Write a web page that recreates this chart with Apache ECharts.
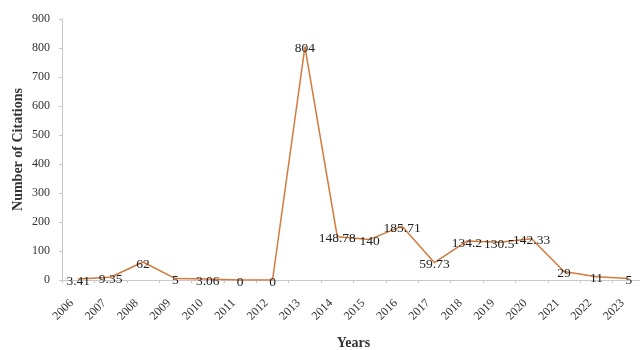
<!DOCTYPE html>
<html><head><meta charset="utf-8">
<script src="https://cdn.jsdelivr.net/npm/echarts@6/dist/echarts.min.js"></script>
<style>html,body{margin:0;padding:0;background:#fff}#c{width:640px;height:350px}</style>
</head><body><div id="c"></div>
<script>
const years = ['2006','2007','2008','2009','2010','2011','2012','2013','2014','2015','2016','2017','2018','2019','2020','2021','2022','2023'];
const citations = [3.41, 9.35, 62, 5, 3.06, 0, 0, 804, 148.78, 140, 185.71, 59.73, 134.2, 130.5, 142.33, 29, 11, 5];
const yTicks = [0, 100, 200, 300, 400, 500, 600, 700, 800, 900];

const serif = 'Liberation Serif, Times New Roman, serif';
const chart = echarts.init(document.getElementById('c'));
chart.setOption({
  animation: false,
  grid: { left: 62, top: 19, width: 583, height: 261, containLabel: false, outerBoundsMode: 'none' },
  xAxis: {
    type: 'category', data: years, boundaryGap: true,
    name: 'Years', nameLocation: 'middle', nameGap: 56,
    nameTextStyle: { fontFamily: serif, fontWeight: 'bold', fontSize: 14, color: '#333' },
    axisLine: { lineStyle: { color: '#c8c8c8' } },
    axisTick: { show: true, length: 3, lineStyle: { color: '#c8c8c8' } },
    axisLabel: { rotate: 45, fontFamily: serif, fontSize: 12, color: '#333', margin: 15, padding: [0, 9, 0, 0] }
  },
  yAxis: {
    type: 'value', min: yTicks[0], max: yTicks[yTicks.length - 1], interval: 100,
    name: 'Number of Citations', nameLocation: 'middle', nameGap: 37, nameMoveOverlap: false,
    nameTextStyle: { fontFamily: serif, fontWeight: 'bold', fontSize: 14, color: '#333' },
    axisLine: { show: true, lineStyle: { color: '#c8c8c8' } },
    axisTick: { show: true, length: 3, lineStyle: { color: '#c8c8c8' } },
    splitLine: { show: false },
    axisLabel: { fontFamily: serif, fontSize: 12, color: '#333', margin: 12 }
  },
  series: [{
    type: 'line', data: citations,
    symbol: 'circle', symbolSize: 1,
    itemStyle: { color: '#d37a3c' },
    lineStyle: { color: '#d37a3c', width: 1.5 },
    label: { show: true, position: 'inside', offset: [0, 2], fontFamily: serif, fontSize: 13.5, color: '#222' }
  }]
});
</script></body></html>
